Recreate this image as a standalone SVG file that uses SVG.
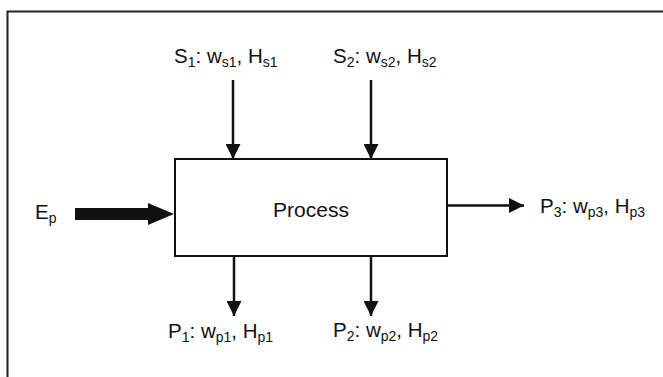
<svg xmlns="http://www.w3.org/2000/svg" width="663" height="377" viewBox="0 0 663 377">
<style>
  text { font-family: "Liberation Sans", Arial, sans-serif; fill: #111; }
  .lbl { font-size: 20.5px; }
  .sub { font-size: 14px; }
  .conn { stroke: #111; stroke-width: 2.5; fill: none; }
  .frame { stroke: #222; stroke-width: 2; fill: none; }
</style>
<defs>
  <marker id="ah" viewBox="0 0 15 15" refX="15" refY="7.5" markerWidth="15" markerHeight="15" markerUnits="userSpaceOnUse" orient="auto">
    <path d="M0,0 L15,7.5 L0,15 Z" fill="#111"/>
  </marker>
</defs>
<rect width="663" height="377" fill="#fff"/>
<path class="frame" d="M7.5,377 L7.5,11.5 L663,11.5"/>

<g id="connectors">
  <line class="conn" x1="233" y1="80" x2="233" y2="159" marker-end="url(#ah)"/>
  <line class="conn" x1="371" y1="80" x2="371" y2="159" marker-end="url(#ah)"/>
  <line class="conn" x1="234" y1="256" x2="234" y2="316" marker-end="url(#ah)"/>
  <line class="conn" x1="371" y1="256" x2="371" y2="316" marker-end="url(#ah)"/>
  <line class="conn" x1="447" y1="205.5" x2="524" y2="205.5" marker-end="url(#ah)"/>
  <path d="M75,208 L148,208 L148,203 L174,214 L148,225 L148,220 L75,220 Z" fill="#111"/>
</g>

<g id="process">
  <rect x="175" y="159" width="272" height="97" fill="#fff" stroke="#111" stroke-width="2"/>
  <text x="311" y="217" font-size="21" text-anchor="middle">Process</text>
</g>

<g id="s1">
  <text class="lbl" x="174" y="63">S<tspan class="sub" dy="4">1</tspan><tspan dy="-4">: w</tspan><tspan class="sub" dy="4">s1</tspan><tspan dy="-4">, H</tspan><tspan class="sub" dy="4">s1</tspan></text>
</g>
<g id="s2">
  <text class="lbl" x="333" y="63">S<tspan class="sub" dy="4">2</tspan><tspan dy="-4">: w</tspan><tspan class="sub" dy="4">s2</tspan><tspan dy="-4">, H</tspan><tspan class="sub" dy="4">s2</tspan></text>
</g>
<g id="ep">
  <text class="lbl" x="35" y="219">E<tspan class="sub" dy="4">p</tspan></text>
</g>
<g id="p3">
  <text class="lbl" x="540" y="213">P<tspan class="sub" dy="4">3</tspan><tspan dy="-4">: w</tspan><tspan class="sub" dy="4">p3</tspan><tspan dy="-4">, H</tspan><tspan class="sub" dy="4">p3</tspan></text>
</g>
<g id="p1">
  <text class="lbl" x="168" y="338">P<tspan class="sub" dy="4">1</tspan><tspan dy="-4">: w</tspan><tspan class="sub" dy="4">p1</tspan><tspan dy="-4">, H</tspan><tspan class="sub" dy="4">p1</tspan></text>
</g>
<g id="p2">
  <text class="lbl" x="333" y="337">P<tspan class="sub" dy="4">2</tspan><tspan dy="-4">: w</tspan><tspan class="sub" dy="4">p2</tspan><tspan dy="-4">, H</tspan><tspan class="sub" dy="4">p2</tspan></text>
</g>
</svg>
